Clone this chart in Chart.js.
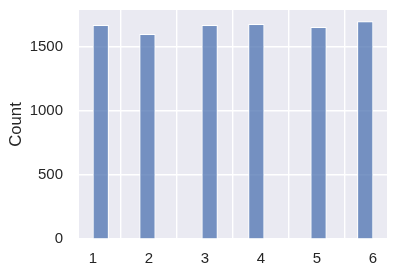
<!DOCTYPE html>
<html>
<head>
<meta charset="utf-8">
<script src="https://cdn.jsdelivr.net/npm/chart.js@4"></script>
<style>
html,body{margin:0;padding:0;background:#fff;}
#wrap{width:397px;height:278px;position:relative;}
</style>
</head>
<body>
<div id="wrap"><canvas id="c" width="397" height="278"></canvas></div>
<script>
// Die faces and how often each was rolled
const faces = [1, 2, 3, 4, 5, 6];
const counts = [1666, 1596, 1665, 1674, 1650, 1695];
const xTicks = [1, 2, 3, 4, 5, 6];
const yTicks = [0, 500, 1000, 1500];
const binCount = 18;

// Build histogram bins (numpy-style) from the face counts
const lo = Math.min(...faces), hi = Math.max(...faces);
const binWidth = (hi - lo) / binCount;
const binTotals = new Array(binCount).fill(0);
faces.forEach((f, i) => {
  let b = Math.floor((f - lo) / binWidth + 1e-9);
  if (b >= binCount) b = binCount - 1;
  binTotals[b] += counts[i];
});
const binData = binTotals.map((v, b) => ({ x: lo + (b + 0.5) * binWidth, y: v }));

const bgPlugin = {
  id: 'bg',
  beforeDraw(chart) {
    const { ctx, chartArea: a } = chart;
    ctx.save();
    ctx.fillStyle = '#EAEAF2';
    ctx.fillRect(a.left, a.top, a.right - a.left, a.bottom - a.top);
    ctx.restore();
  }
};

const FONT = 'Liberation Sans, Arial, sans-serif';

new Chart(document.getElementById('c'), {
  type: 'bar',
  data: {
    datasets: [{
      data: binData,
      backgroundColor: ctx => (ctx.raw && ctx.raw.y > 0 ? 'rgba(76,114,176,0.75)' : 'rgba(0,0,0,0)'),
      borderColor: '#ffffff',
      borderWidth: ctx => (ctx.raw && ctx.raw.y > 0 ? 1 : 0),
      borderSkipped: 'bottom',
      barPercentage: 1,
      categoryPercentage: 1
    }]
  },
  options: {
    responsive: false,
    animation: false,
    devicePixelRatio: 1,
    layout: { padding: { top: 10, right: 10, left: 0, bottom: 0 } },
    plugins: { legend: { display: false }, tooltip: { enabled: false } },
    scales: {
      x: {
        type: 'linear',
        min: 0.75,
        max: 6.25,
        offset: false,
        afterBuildTicks: s => { s.ticks = xTicks.map(v => ({ value: v })); },
        afterFit: s => { s.height = 39; s.paddingLeft = 0; s.paddingRight = 0; },
        grid: { color: '#ffffff', lineWidth: 1.4, drawTicks: false },
        border: { display: false },
        ticks: {
          color: '#262626',
          font: { family: FONT, size: 15 },
          padding: 11,
          maxRotation: 0,
          callback: v => String(v)
        }
      },
      y: {
        min: 0,
        max: 1785,
        afterBuildTicks: s => { s.ticks = yTicks.map(v => ({ value: v })); },
        afterFit: s => { s.width = 79; s.paddingTop = 0; s.paddingBottom = 0; },
        grid: { color: '#ffffff', lineWidth: 1.4, drawTicks: false },
        border: { display: false },
        title: {
          display: true,
          text: 'Count',
          color: '#262626',
          font: { family: FONT, size: 16.7 },
          padding: { top: 6, bottom: 0 }
        },
        ticks: {
          color: '#262626',
          font: { family: FONT, size: 15 },
          padding: 16,
          callback: v => String(v)
        }
      }
    }
  },
  plugins: [bgPlugin]
});
</script>
</body>
</html>
